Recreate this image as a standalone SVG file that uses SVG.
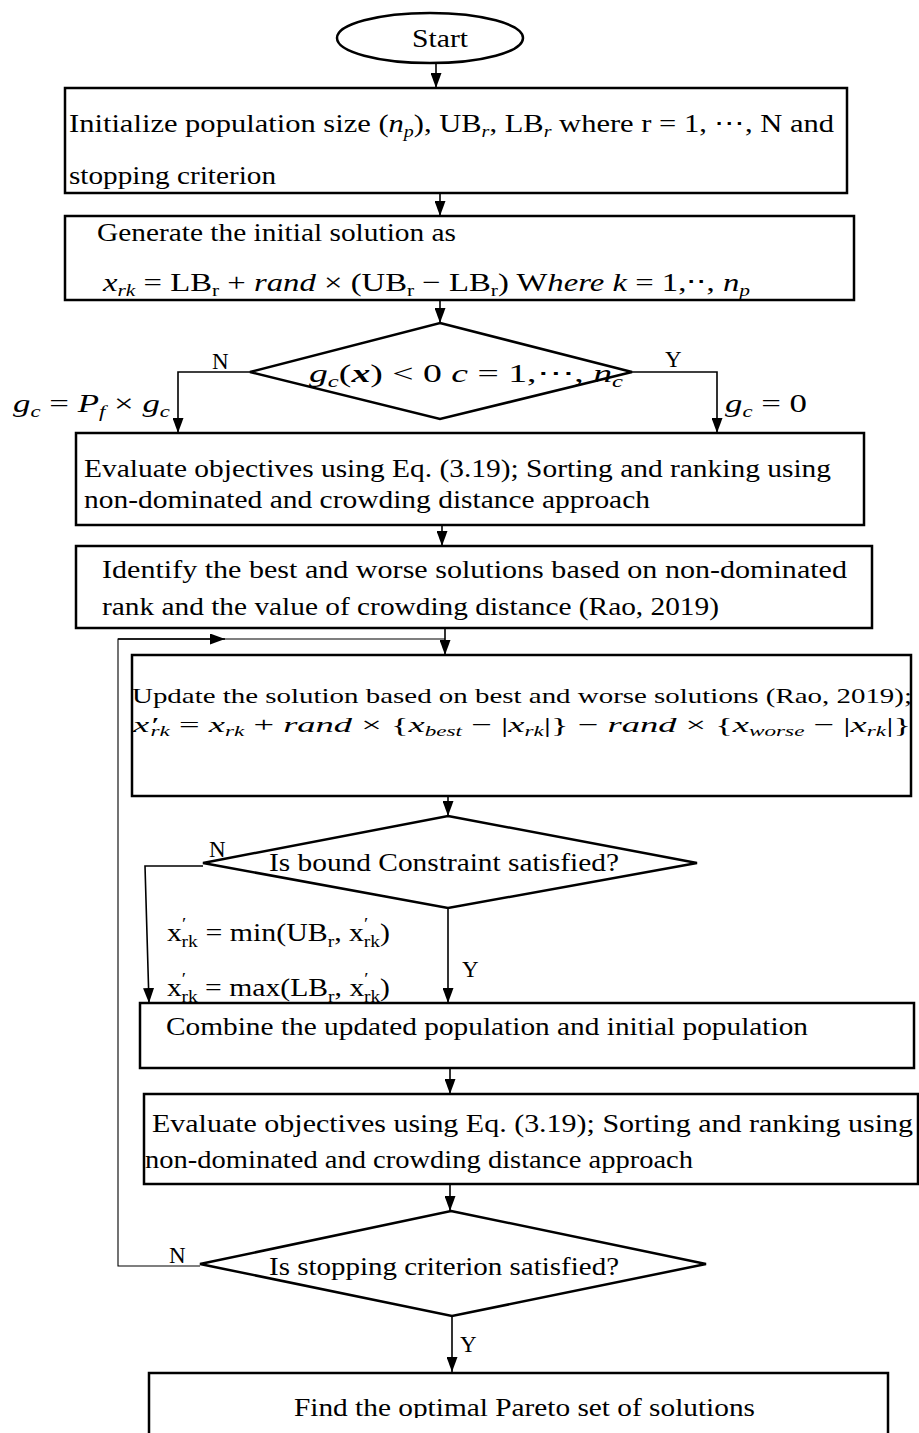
<svg xmlns="http://www.w3.org/2000/svg" width="919" height="1433" viewBox="0 0 919 1433" font-family="'Liberation Serif', 'Times New Roman', serif">
<style>
.box{fill:#fff;stroke:#000;stroke-width:2.5}
.ln{fill:none;stroke:#000;stroke-width:1.6}
.thin{fill:none;stroke:#000;stroke-width:1.1}
text{font-family:'Liberation Serif','Times New Roman',serif;font-size:26px;fill:#000}
.i{font-style:italic}
.sub{font-size:17px}
.lbl{font-size:23px}
.tight{font-size:22px}
.tsub{font-size:14px}
</style>
<defs>
<marker id="ah" markerUnits="userSpaceOnUse" markerWidth="15" markerHeight="11" refX="15" refY="5.5" orient="auto">
<path d="M0,0 L15,5.5 L0,11 z" fill="#000"/>
</marker>
<clipPath id="clip8"><rect x="140" y="1370" width="760" height="48"/></clipPath>
</defs>

<g id="connectors">
<line class="ln" x1="436" y1="63" x2="436" y2="88" marker-end="url(#ah)"/>
<line class="ln" x1="440" y1="193" x2="440" y2="216" marker-end="url(#ah)"/>
<line class="ln" x1="440" y1="300" x2="440" y2="323" marker-end="url(#ah)"/>
<polyline class="ln" points="250,372 178,372 178,433" marker-end="url(#ah)"/>
<polyline class="ln" points="630,372 717,372 717,433" marker-end="url(#ah)"/>
<line class="ln" x1="442" y1="525" x2="442" y2="546" marker-end="url(#ah)"/>
<line class="ln" x1="445" y1="628" x2="445" y2="655" marker-end="url(#ah)"/>
<polyline class="thin" points="200,1266 118,1266 118,639 445,639"/>
<line class="ln" x1="118" y1="639" x2="225" y2="639" marker-end="url(#ah)"/>
<line class="ln" x1="448" y1="796" x2="448" y2="816" marker-end="url(#ah)"/>
<polyline class="ln" points="203,866 145,866 149,1003" marker-end="url(#ah)"/>
<line class="ln" x1="448" y1="908" x2="448" y2="1003" marker-end="url(#ah)"/>
<line class="ln" x1="450" y1="1068" x2="450" y2="1094" marker-end="url(#ah)"/>
<line class="ln" x1="450" y1="1184" x2="450" y2="1211" marker-end="url(#ah)"/>
<line class="ln" x1="452" y1="1316" x2="452" y2="1372" marker-end="url(#ah)"/>
</g>

<g id="start">
<ellipse class="box" cx="430" cy="38" rx="93" ry="25"/>
<text x="440" y="47" text-anchor="middle" textLength="56" lengthAdjust="spacingAndGlyphs">Start</text>
</g>

<g id="init">
<rect class="box" x="65" y="88" width="782" height="105"/>
<text x="69" y="132" textLength="765" lengthAdjust="spacingAndGlyphs">Initialize population size (<tspan class="i">n</tspan><tspan class="i sub" dy="5">p</tspan><tspan dy="-5">), UB</tspan><tspan class="i sub" dy="5">r</tspan><tspan dy="-5">, LB</tspan><tspan class="i sub" dy="5">r</tspan><tspan dy="-5"> where r = 1, ⋯, N and</tspan></text>
<text x="69" y="184" textLength="207" lengthAdjust="spacingAndGlyphs">stopping criterion</text>
</g>

<g id="generate">
<rect class="box" x="65" y="216" width="789" height="84"/>
<text x="97" y="241" textLength="359" lengthAdjust="spacingAndGlyphs">Generate the initial solution as</text>
<text x="103" y="291" textLength="647" lengthAdjust="spacingAndGlyphs"><tspan class="i">x</tspan><tspan class="i sub" dy="5">rk</tspan><tspan dy="-5"> = LB</tspan><tspan class="sub" dy="5">r</tspan><tspan dy="-5"> + </tspan><tspan class="i">rand</tspan><tspan> × (UB</tspan><tspan class="sub" dy="5">r</tspan><tspan dy="-5"> − LB</tspan><tspan class="sub" dy="5">r</tspan><tspan dy="-5">) W</tspan><tspan class="i">here k</tspan><tspan> = 1,⋅⋅, </tspan><tspan class="i">n</tspan><tspan class="i sub" dy="5">p</tspan></text>
</g>

<g id="constraint">
<polygon class="box" points="440,323 632,372 440,419 250,372"/>
<text x="309" y="382" textLength="314" lengthAdjust="spacingAndGlyphs"><tspan class="i">g</tspan><tspan class="i sub" dy="5">c</tspan><tspan dy="-5">(</tspan><tspan class="i" font-weight="bold">x</tspan><tspan>) &lt; 0   </tspan><tspan class="i">c</tspan><tspan> = 1,⋯, </tspan><tspan class="i">n</tspan><tspan class="i sub" dy="5">c</tspan></text>
<text class="lbl" x="212" y="369">N</text>
<text class="lbl" x="665" y="367">Y</text>
<text x="13" y="412" textLength="157" lengthAdjust="spacingAndGlyphs"><tspan class="i">g</tspan><tspan class="i sub" dy="5">c</tspan><tspan dy="-5"> = </tspan><tspan class="i">P</tspan><tspan class="i sub" dy="5">f</tspan><tspan dy="-5"> × </tspan><tspan class="i">g</tspan><tspan class="i sub" dy="5">c</tspan></text>
<text x="725" y="412" textLength="82" lengthAdjust="spacingAndGlyphs"><tspan class="i">g</tspan><tspan class="i sub" dy="5">c</tspan><tspan dy="-5"> = 0</tspan></text>
</g>

<g id="evaluate1">
<rect class="box" x="76" y="433" width="788" height="92"/>
<text x="84" y="477" textLength="747" lengthAdjust="spacingAndGlyphs">Evaluate objectives using Eq. (3.19); Sorting and ranking using</text>
<text x="84" y="508" textLength="566" lengthAdjust="spacingAndGlyphs">non-dominated and crowding distance approach</text>
</g>

<g id="identify">
<rect class="box" x="76" y="546" width="796" height="82"/>
<text x="102" y="578" textLength="745" lengthAdjust="spacingAndGlyphs">Identify the best and worse solutions based on non-dominated</text>
<text x="102" y="615" textLength="617" lengthAdjust="spacingAndGlyphs">rank and the value of crowding distance (Rao, 2019)</text>
</g>

<g id="update">
<rect class="box" x="132" y="655" width="779" height="141"/>
<text class="tight" x="132" y="703" textLength="780" lengthAdjust="spacingAndGlyphs">Update the solution based on best and worse solutions (Rao, 2019);</text>
<text class="tight" x="133" y="732" textLength="778" lengthAdjust="spacingAndGlyphs"><tspan class="i">x′</tspan><tspan class="i tsub" dx="-4" dy="4">rk</tspan><tspan dy="-4"> = </tspan><tspan class="i">x</tspan><tspan class="i tsub" dy="4">rk</tspan><tspan dy="-4"> + </tspan><tspan class="i">rand</tspan><tspan> × {</tspan><tspan class="i">x</tspan><tspan class="i tsub" dy="4">best</tspan><tspan dy="-4"> − |</tspan><tspan class="i">x</tspan><tspan class="i tsub" dy="4">rk</tspan><tspan dy="-4">|} −  </tspan><tspan class="i">rand</tspan><tspan> × {</tspan><tspan class="i">x</tspan><tspan class="i tsub" dy="4">worse</tspan><tspan dy="-4"> − |</tspan><tspan class="i">x</tspan><tspan class="i tsub" dy="4">rk</tspan><tspan dy="-4">|}</tspan></text>
</g>

<g id="bound">
<polygon class="box" points="448,816 697,863 448,908 203,863"/>
<text x="269" y="871" textLength="350" lengthAdjust="spacingAndGlyphs">Is bound Constraint satisfied?</text>
<text class="lbl" x="209" y="857">N</text>
<text class="lbl" x="462" y="977">Y</text>
<text x="167" y="941" textLength="223" lengthAdjust="spacingAndGlyphs">x<tspan class="sub" dy="-12">′</tspan><tspan class="sub" dx="-4" dy="18">rk</tspan><tspan dy="-6"> = min(UB</tspan><tspan class="sub" dy="6">r</tspan><tspan dy="-6">, x</tspan><tspan class="sub" dy="-12">′</tspan><tspan class="sub" dx="-4" dy="18">rk</tspan><tspan dy="-6">)</tspan></text>
<text x="167" y="996" textLength="223" lengthAdjust="spacingAndGlyphs">x<tspan class="sub" dy="-12">′</tspan><tspan class="sub" dx="-4" dy="18">rk</tspan><tspan dy="-6"> = max(LB</tspan><tspan class="sub" dy="6">r</tspan><tspan dy="-6">, x</tspan><tspan class="sub" dy="-12">′</tspan><tspan class="sub" dx="-4" dy="18">rk</tspan><tspan dy="-6">)</tspan></text>
</g>

<g id="combine">
<rect class="box" x="140" y="1003" width="774" height="65"/>
<text x="166" y="1035" textLength="642" lengthAdjust="spacingAndGlyphs">Combine the updated population and initial population</text>
</g>

<g id="evaluate2">
<rect class="box" x="144" y="1094" width="774" height="90"/>
<text x="152" y="1132" textLength="761" lengthAdjust="spacingAndGlyphs">Evaluate objectives using Eq. (3.19); Sorting and ranking using</text>
<text x="145" y="1168" textLength="548" lengthAdjust="spacingAndGlyphs">non-dominated and crowding distance approach</text>
</g>

<g id="stopping">
<polygon class="box" points="451,1211 706,1264 452,1316 200,1264"/>
<text x="269" y="1275" textLength="350" lengthAdjust="spacingAndGlyphs">Is stopping criterion satisfied?</text>
<text class="lbl" x="169" y="1263">N</text>
<text class="lbl" x="460" y="1352">Y</text>
</g>

<g id="pareto">
<polyline class="box" fill="none" points="149,1440 149,1373 888,1373 888,1440"/>
<text x="294" y="1416" textLength="461" lengthAdjust="spacingAndGlyphs" clip-path="url(#clip8)">Find the optimal Pareto set of solutions</text>
</g>
</svg>
